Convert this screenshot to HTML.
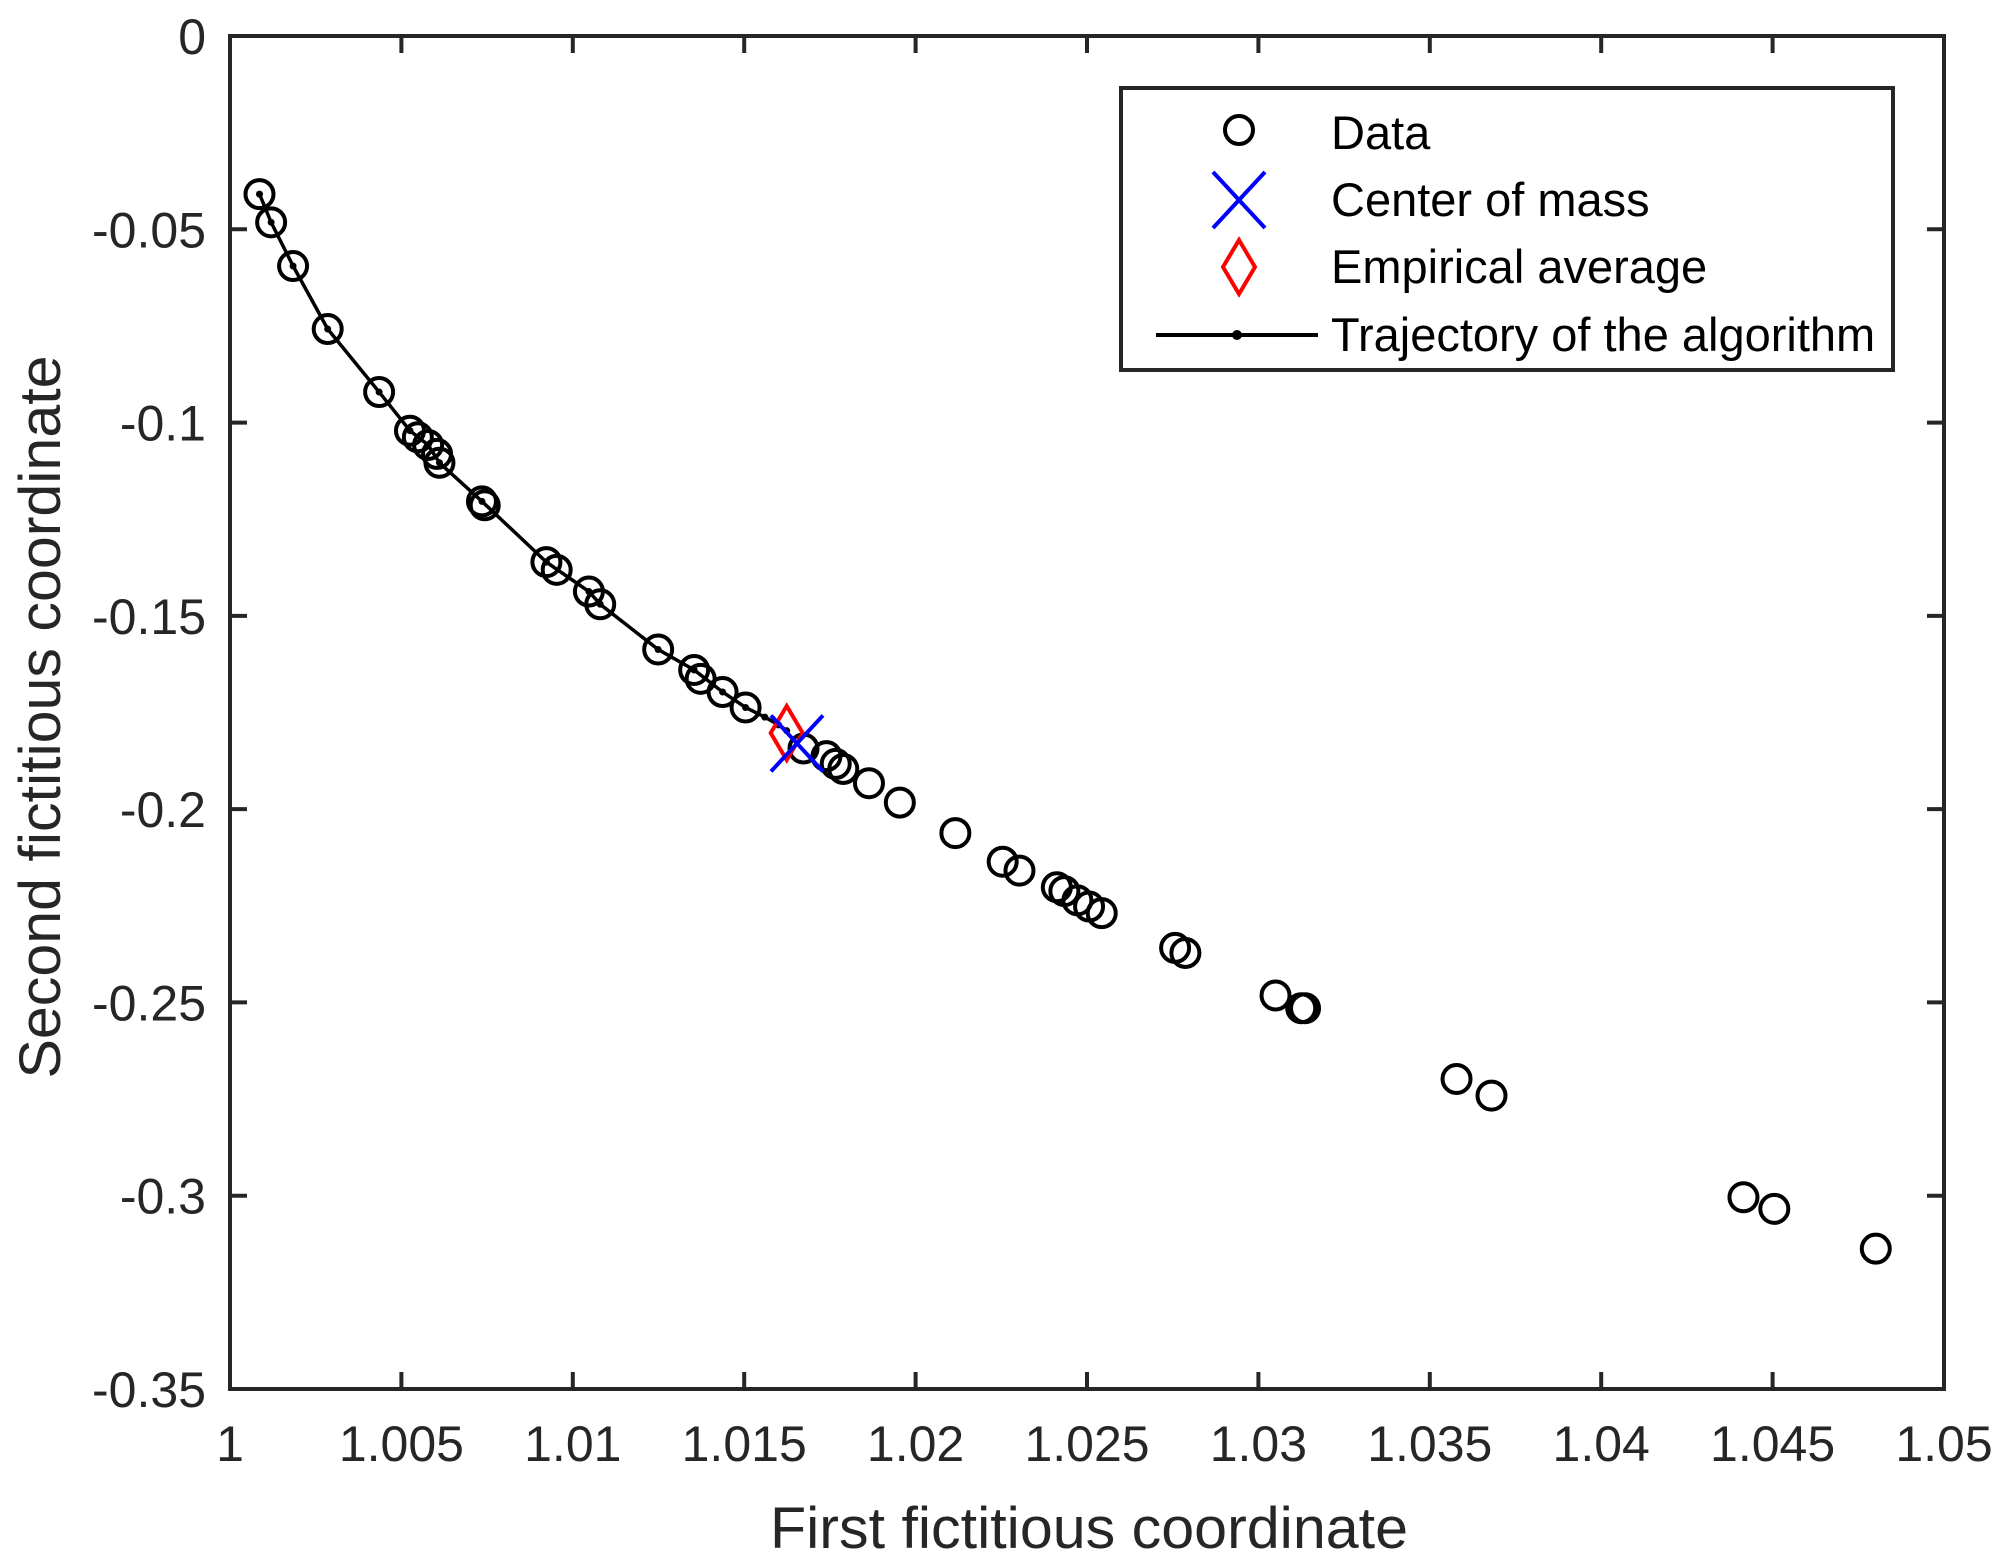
<!DOCTYPE html>
<html><head><meta charset="utf-8"><style>
html,body{margin:0;padding:0;background:#fff;}
svg{display:block;font-family:"Liberation Sans",Arial,sans-serif;}
</style></head><body>
<svg id="chart" width="2015" height="1568" viewBox="0 0 2015 1568" xmlns="http://www.w3.org/2000/svg">
<g id="plot"></g>
</svg>
<script>
const dataX=[1.00086,1.00120,1.00184,1.00285,1.00435,1.00525,1.00548,1.00578,1.00604,1.00611,1.00735,1.00743,1.00923,1.00953,1.01047,1.01080,1.01249,1.01354,1.01373,1.01437,1.01504,1.01673,1.01740,1.01767,1.01789,1.01864,1.01954,1.02116,1.02254,1.02303,1.02412,1.02434,1.02472,1.02506,1.02543,1.02757,1.02787,1.03050,1.03125,1.03136,1.03578,1.03680,1.04415,1.04505,1.04801];
const dataY=[-0.0409,-0.0482,-0.0595,-0.0758,-0.0921,-0.1021,-0.1038,-0.1058,-0.1081,-0.1104,-0.1204,-0.1214,-0.1361,-0.1381,-0.1437,-0.1470,-0.1587,-0.1640,-0.1663,-0.1697,-0.1737,-0.1843,-0.1863,-0.1883,-0.1896,-0.1933,-0.1983,-0.2062,-0.2136,-0.2159,-0.2202,-0.2212,-0.2236,-0.2252,-0.2269,-0.2359,-0.2372,-0.2482,-0.2515,-0.2515,-0.2698,-0.2741,-0.3004,-0.3034,-0.3137];
const trajX=[1.00086,1.00120,1.00184,1.00285,1.00435,1.00525,1.00578,1.00611,1.00735,1.00923,1.01047,1.01080,1.01249,1.01354,1.01437,1.01504,1.01560,1.01600,1.01624];
const trajY=[-0.0409,-0.0482,-0.0595,-0.0758,-0.0921,-0.1021,-0.1058,-0.1104,-0.1204,-0.1361,-0.1437,-0.1470,-0.1587,-0.1640,-0.1697,-0.1737,-0.1762,-0.1782,-0.1797];
const centerOfMass=[1.01654,-0.1830];
const empiricalAverage=[1.01624,-0.1803];
const xTicks=[1,1.005,1.01,1.015,1.02,1.025,1.03,1.035,1.04,1.045,1.05];
const xTickLabels=["1","1.005","1.01","1.015","1.02","1.025","1.03","1.035","1.04","1.045","1.05"];
const yTicks=[0,-0.05,-0.1,-0.15,-0.2,-0.25,-0.3,-0.35];
const yTickLabels=["0","-0.05","-0.1","-0.15","-0.2","-0.25","-0.3","-0.35"];

const L=230,R=1944,T=36,B=1389;
const xMin=1,xMax=1.05,yMin=-0.35,yMax=0;
const sx=v=>L+(v-xMin)/(xMax-xMin)*(R-L);
const sy=v=>B-(v-yMin)/(yMax-yMin)*(B-T);
const NS="http://www.w3.org/2000/svg";
const g=document.getElementById('plot');
function mk(tag,attrs,parent){const e=document.createElementNS(NS,tag);for(const k in attrs)e.setAttribute(k,attrs[k]);(parent||g).appendChild(e);return e;}
const AX="#262626";

let d=trajX.map((x,i)=>(i?'L':'M')+sx(x).toFixed(1)+' '+sy(trajY[i]).toFixed(1)).join(' ');
const tr=mk('path',{d:d,fill:'none',stroke:'#000','stroke-width':3.5});


trajX.forEach((x,i)=>{const c=mk('circle',{cx:sx(x),cy:sy(trajY[i]),r:3.5,fill:'#000'});

});

dataX.forEach((x,i)=>{const c=mk('circle',{cx:sx(x),cy:sy(dataY[i]),r:14,fill:'none',stroke:'#000','stroke-width':4});

});

{const cx=sx(empiricalAverage[0]),cy=sy(empiricalAverage[1]);
const p=mk('polygon',{points:`${cx},${cy-27} ${cx+16},${cy} ${cx},${cy+27} ${cx-16},${cy}`,fill:'none',stroke:'#f00','stroke-width':4});

}
{const cx=sx(centerOfMass[0]),cy=sy(centerOfMass[1]);
const p=mk('path',{d:`M${cx-26} ${cy-28}L${cx+26} ${cy+28}M${cx-26} ${cy+28}L${cx+26} ${cy-28}`,stroke:'#00f','stroke-width':4,fill:'none'});

}

const box=mk('rect',{x:L,y:T,width:R-L,height:B-T,fill:'none',stroke:AX,'stroke-width':4});


xTicks.forEach((v,i)=>{const x=sx(v);
mk('path',{d:`M${x} ${B}V${B-17}M${x} ${T}V${T+17}`,stroke:AX,'stroke-width':4});
const t=mk('text',{x:x,y:1461,'font-size':50,'text-anchor':'middle',fill:AX});t.textContent=xTickLabels[i];

});
yTicks.forEach((v,i)=>{const y=sy(v);
mk('path',{d:`M${L} ${y}H${L+17}M${R} ${y}H${R-17}`,stroke:AX,'stroke-width':4});
const t=mk('text',{x:206,y:y+18,'font-size':50,'text-anchor':'end',fill:AX});t.textContent=yTickLabels[i];

});

{const t=mk('text',{x:1089,y:1548,'font-size':58,'text-anchor':'middle',fill:AX,textLength:638,lengthAdjust:'spacingAndGlyphs'});t.textContent='First fictitious coordinate';


const t2=mk('text',{x:0,y:0,'font-size':58,'text-anchor':'middle',fill:AX,transform:'translate(60,717) rotate(-90)',textLength:723,lengthAdjust:'spacingAndGlyphs'});t2.textContent='Second fictitious coordinate';

}

const lg=mk('g',{});


mk('rect',{x:1121,y:88,width:772,height:282,fill:'#fff',stroke:AX,'stroke-width':4},lg);
const rows=[133,200,267,335],labels=['Data','Center of mass','Empirical average','Trajectory of the algorithm'];
mk('circle',{cx:1239,cy:rows[0]-3,r:14,fill:'none',stroke:'#000','stroke-width':4},lg);
mk('path',{d:`M1213 ${rows[1]-28}L1265 ${rows[1]+28}M1213 ${rows[1]+28}L1265 ${rows[1]-28}`,stroke:'#00f','stroke-width':4},lg);
mk('polygon',{points:`1239,${rows[2]-27} 1255,${rows[2]} 1239,${rows[2]+27} 1223,${rows[2]}`,fill:'none',stroke:'#f00','stroke-width':4},lg);
mk('path',{d:`M1156 ${rows[3]}H1318`,stroke:'#000','stroke-width':4},lg);
mk('circle',{cx:1237,cy:rows[3],r:5,fill:'#000'},lg);
labels.forEach((s,i)=>{const t=mk('text',{x:1331,y:rows[i]+16,'font-size':47,fill:'#000'},lg);t.textContent=s;

});
</script>
</body></html>
